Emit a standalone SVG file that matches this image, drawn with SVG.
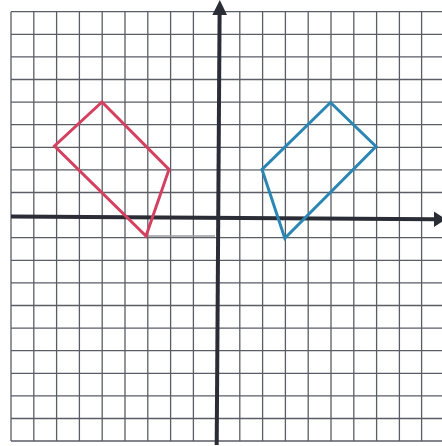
<svg xmlns="http://www.w3.org/2000/svg" width="442" height="446" viewBox="0 0 442 446">
<defs>
<style>
.grid line{stroke:#5a5d66;stroke-width:1.3}
.axis{stroke:#2b2d36;stroke-width:4;fill:none}
.arrow{fill:#2b2d36}
.red{fill:none;stroke:#d4405f;stroke-width:3;stroke-linejoin:miter}
.blue{fill:none;stroke:#2a86b3;stroke-width:3;stroke-linejoin:miter}
.faint{stroke:#9a9ca2;stroke-width:1.4}
</style>
</defs>
<rect width="442" height="446" fill="#ffffff"/>
<g id="grid" class="grid">
<line x1="11" y1="11.7" x2="11" y2="441"/>
<line x1="33.8" y1="11.7" x2="33.8" y2="441"/>
<line x1="56.6" y1="11.7" x2="56.6" y2="441"/>
<line x1="79.4" y1="11.7" x2="79.4" y2="441"/>
<line x1="102.2" y1="11.7" x2="102.2" y2="441"/>
<line x1="125" y1="11.7" x2="125" y2="441"/>
<line x1="147.8" y1="11.7" x2="147.8" y2="441"/>
<line x1="170.6" y1="11.7" x2="170.6" y2="441"/>
<line x1="193.4" y1="11.7" x2="193.4" y2="441"/>
<line x1="239.8" y1="11.7" x2="239.8" y2="441"/>
<line x1="262.6" y1="11.7" x2="262.6" y2="441"/>
<line x1="285.4" y1="11.7" x2="285.4" y2="441"/>
<line x1="308.2" y1="11.7" x2="308.2" y2="441"/>
<line x1="331" y1="11.7" x2="331" y2="441"/>
<line x1="353.8" y1="11.7" x2="353.8" y2="441"/>
<line x1="376.6" y1="11.7" x2="376.6" y2="441"/>
<line x1="399.4" y1="11.7" x2="399.4" y2="441"/>
<line x1="421.6" y1="11.7" x2="421.6" y2="441"/>
<line x1="11" y1="11.7" x2="442" y2="11.7"/>
<line x1="11" y1="34.3" x2="442" y2="34.3"/>
<line x1="11" y1="56.9" x2="442" y2="56.9"/>
<line x1="11" y1="79.5" x2="442" y2="79.5"/>
<line x1="11" y1="102.1" x2="442" y2="102.1"/>
<line x1="11" y1="124.7" x2="442" y2="124.7"/>
<line x1="11" y1="147.3" x2="442" y2="147.3"/>
<line x1="11" y1="169.9" x2="442" y2="169.9"/>
<line x1="11" y1="192.5" x2="442" y2="192.5"/>
<line x1="11" y1="237.7" x2="442" y2="237.7"/>
<line x1="11" y1="260.3" x2="442" y2="260.3"/>
<line x1="11" y1="282.9" x2="442" y2="282.9"/>
<line x1="11" y1="305.5" x2="442" y2="305.5"/>
<line x1="11" y1="328.1" x2="442" y2="328.1"/>
<line x1="11" y1="350.7" x2="442" y2="350.7"/>
<line x1="11" y1="373.3" x2="442" y2="373.3"/>
<line x1="11" y1="395.9" x2="442" y2="395.9"/>
<line x1="11" y1="418.5" x2="442" y2="418.5"/>
<line x1="11" y1="441" x2="442" y2="441"/>
</g>
<g id="construction">
<line class="faint" x1="148" y1="236" x2="215" y2="236"/>
<line class="faint" x1="243" y1="170" x2="261" y2="170"/>
</g>
<g id="axes">
<line class="axis" x1="11" y1="216.6" x2="434" y2="219.2"/>
<polygon class="arrow" points="434,211.5 446,219.3 434,227"/>
<line class="axis" x1="219.6" y1="14" x2="216.7" y2="445"/>
<polygon class="arrow" points="212.3,15 219.8,0 227,15"/>
</g>
<g id="red-shape">
<polygon class="red" points="102,102 169,169.5 146,236 54.5,146"/>
</g>
<g id="blue-shape">
<polygon class="blue" points="330.5,102.5 376,146.5 284.8,238.3 262,169.5"/>
</g>
</svg>
